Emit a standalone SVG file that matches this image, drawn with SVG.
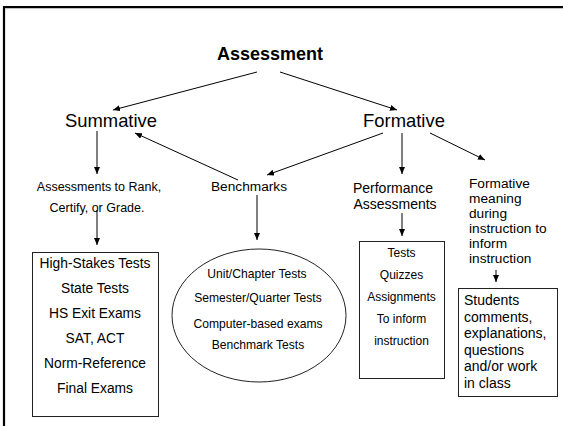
<svg xmlns="http://www.w3.org/2000/svg" width="563" height="426" viewBox="0 0 563 426">
<defs>
<marker id="ah" markerUnits="userSpaceOnUse" markerWidth="7" markerHeight="6" refX="7" refY="3" orient="auto">
<path d="M0,0 L7,3 L0,6 z" fill="#000"/>
</marker>
<style>
text{font-family:"Liberation Sans",Arial,sans-serif;fill:#000}
.c{text-anchor:middle}
.big{font-size:18.4px}
.conn line{stroke:#000;stroke-width:1;marker-end:url(#ah)}
.box{fill:#fff;stroke:#222;stroke-width:1}
</style>
</defs>
<rect width="563" height="426" fill="#fff"/>
<g id="frame">
<line x1="3" y1="7" x2="563" y2="7" stroke="#000" stroke-width="2.2"/>
<line x1="4" y1="6" x2="4" y2="426" stroke="#000" stroke-width="2.2"/>
<line x1="5" y1="8.6" x2="563" y2="8.6" stroke="#bbb" stroke-width="1"/>
</g>
<g class="conn">
<line x1="257" y1="72" x2="113" y2="110"/>
<line x1="280" y1="72" x2="397" y2="110"/>
<line x1="97" y1="131" x2="97" y2="174"/>
<line x1="238" y1="180" x2="135" y2="133"/>
<line x1="383" y1="133" x2="267" y2="175"/>
<line x1="402" y1="133" x2="402" y2="174"/>
<line x1="430" y1="133" x2="485" y2="160"/>
<line x1="97" y1="210" x2="97" y2="245"/>
<line x1="257" y1="195" x2="257" y2="240"/>
<line x1="402" y1="213" x2="402" y2="236"/>
<line x1="496" y1="270" x2="496" y2="282"/>
</g>
<g id="assessment"><text class="c" x="270" y="60" font-size="18" font-weight="bold">Assessment</text></g>
<g id="summative"><text class="c big" x="111" y="127">Summative</text></g>
<g id="formative"><text class="c big" x="404" y="127">Formative</text></g>
<g id="rank">
<text class="c" x="99" y="191" font-size="12.5">Assessments to Rank,</text>
<text class="c" x="97" y="212" font-size="12.5">Certify, or Grade.</text>
</g>
<g id="benchmarks"><text class="c" x="249" y="191" font-size="13.7">Benchmarks</text></g>
<g id="performance">
<text class="c" x="393" y="193" font-size="14">Performance</text>
<text class="c" x="395" y="209" font-size="14">Assessments</text>
</g>
<g id="formative-meaning" font-size="13.7">
<text x="469" y="188">Formative</text>
<text x="469" y="203">meaning</text>
<text x="469" y="218">during</text>
<text x="469" y="233">instruction to</text>
<text x="469" y="248">inform</text>
<text x="469" y="263">instruction</text>
</g>
<g id="highstakes">
<rect class="box" x="32.5" y="252.5" width="126" height="164"/>
<g font-size="13.8">
<text class="c" x="95" y="268">High-Stakes Tests</text>
<text class="c" x="95" y="293">State Tests</text>
<text class="c" x="95" y="318">HS Exit Exams</text>
<text class="c" x="95" y="343">SAT, ACT</text>
<text class="c" x="95" y="368">Norm-Reference</text>
<text class="c" x="95" y="393">Final Exams</text>
</g>
</g>
<g id="benchmark-tests">
<ellipse class="box" cx="259" cy="315.5" rx="87" ry="66.5"/>
<g font-size="12.1">
<text class="c" x="257" y="278">Unit/Chapter Tests</text>
<text class="c" x="258" y="302">Semester/Quarter Tests</text>
<text class="c" x="258" y="328">Computer-based exams</text>
<text class="c" x="258" y="349">Benchmark Tests</text>
</g>
</g>
<g id="tests">
<rect class="box" x="359.5" y="241.5" width="85" height="137"/>
<g font-size="12">
<text class="c" x="401.5" y="257">Tests</text>
<text class="c" x="401.5" y="279">Quizzes</text>
<text class="c" x="401.5" y="301">Assignments</text>
<text class="c" x="401.5" y="323">To inform</text>
<text class="c" x="401.5" y="345">instruction</text>
</g>
</g>
<g id="students">
<rect class="box" x="458.5" y="288.5" width="99" height="108"/>
<g font-size="14">
<text x="464" y="305">Students</text>
<text x="464" y="321.5">comments,</text>
<text x="464" y="338">explanations,</text>
<text x="464" y="354.5">questions</text>
<text x="464" y="371">and/or work</text>
<text x="464" y="387.5">in class</text>
</g>
</g>
</svg>
